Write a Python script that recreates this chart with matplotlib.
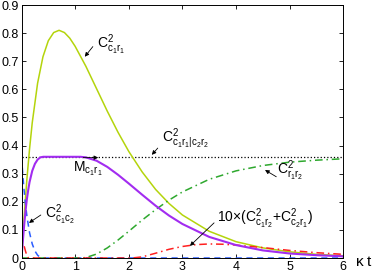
import matplotlib
matplotlib.use("Agg")
import matplotlib.pyplot as plt

plt.rcParams['font.family'] = ['Liberation Sans', 'DejaVu Sans']
plt.rcParams['mathtext.fontset'] = 'custom'
plt.rcParams['mathtext.rm'] = 'Liberation Sans'
plt.rcParams['mathtext.it'] = 'Liberation Sans'
plt.rcParams['mathtext.bf'] = 'Liberation Sans:bold'

# --- data ---
t_c11 = [0, 0.05, 0.1, 0.15, 0.2, 0.3, 0.4, 0.5, 0.6, 0.7, 0.8, 0.9, 1.0, 1.2, 1.4,
         1.6, 1.8, 2.0, 2.25, 2.5, 2.75, 3.0, 3.5, 4.0, 4.5, 5.0, 5.5, 6.0]
C_c1r1 = [0, 0.150, 0.279, 0.388, 0.481, 0.622, 0.716, 0.773, 0.802, 0.810, 0.802,
          0.782, 0.753, 0.682, 0.602, 0.522, 0.447, 0.379, 0.306, 0.244, 0.194,
          0.153, 0.095, 0.058, 0.036, 0.022, 0.013, 0.008]

t_M = [0, 0.02, 0.05, 0.075, 0.1, 0.125, 0.15, 0.2, 0.25, 0.3, 0.35, 0.405, 1.1, 1.2,
       1.4, 1.6, 1.8, 2.0, 2.25, 2.5, 2.75, 3.0, 3.5, 4.0, 4.5, 5.0, 5.5, 6.0]
M_c1r1 = [0, 0.049, 0.118, 0.168, 0.209, 0.242, 0.270, 0.310, 0.335, 0.350, 0.358,
          0.36, 0.36, 0.358, 0.346, 0.324, 0.296, 0.265, 0.225, 0.186, 0.151, 0.121,
          0.075, 0.046, 0.027, 0.016, 0.010, 0.006]

t_cc = [0, 0.025, 0.05, 0.075, 0.1, 0.15, 0.2, 0.25, 0.3, 0.35, 0.405, 6.0]
C_c1c2 = [0.36, 0.294, 0.237, 0.190, 0.150, 0.090, 0.050, 0.025, 0.010, 0.002, 0, 0]

t_cr = [0, 0.01, 0.02, 0.03, 0.05, 0.075, 0.1, 0.125, 0.136, 2.06, 2.25, 2.5, 2.75,
        3.0, 3.25, 3.5, 3.75, 4.0, 4.5, 5.0, 5.5, 6.0]
C_cross10 = [0, 0.035, 0.047, 0.050, 0.042, 0.024, 0.009, 0.001, 0, 0, 0.004, 0.017,
             0.031, 0.041, 0.0475, 0.050, 0.049, 0.046, 0.037, 0.027, 0.019, 0.013]

t_rr = [0, 1.1, 1.2, 1.4, 1.6, 1.8, 2.0, 2.25, 2.5, 2.75, 3.0, 3.5, 4.0, 4.5, 5.0,
        5.5, 6.0]
C_r1r2 = [0, 0, 0.0016, 0.014, 0.036, 0.064, 0.095, 0.135, 0.172, 0.206, 0.235,
          0.280, 0.310, 0.329, 0.341, 0.348, 0.353]

t_tot = [0, 6]
C_total = [0.36, 0.36]

x_ticks = [0, 1, 2, 3, 4, 5, 6]
y_ticks = [0, 0.1, 0.2, 0.3, 0.4, 0.5, 0.6, 0.7, 0.8, 0.9]
y_ticklabels = ['0', '0.1', '0.2', '0.3', '0.4', '0.5', '0.6', '0.7', '0.8', '0.9']

fig = plt.figure(figsize=(3.74, 2.75), dpi=100)
ax = fig.add_axes([0.0575, 0.0618, 0.8605, 0.92])

ax.plot(t_tot, C_total, ':', color='black', lw=0.9)
ax.plot(t_c11, C_c1r1, '-', color='#b4d40c', lw=1.1)
ax.plot(t_cc, C_c1c2, '--', color='#2a5cff', lw=1.1, dashes=(4, 3))
ax.plot(t_rr, C_r1r2, '-.', color='#2ea82e', lw=1.1, dashes=(5, 2.5, 1, 2.5))
ax.plot(t_cr, C_cross10, '-.', color='#ff2020', lw=1.1, dashes=(5, 2.5, 1, 2.5))
ax.plot(t_M, M_c1r1, '-', color='#a22cf0', lw=1.5)

ax.set_xlim(0, 6)
ax.set_ylim(0, 0.9)
ax.set_xticks(x_ticks)
ax.set_yticks(y_ticks)
ax.set_yticklabels(y_ticklabels)
ax.tick_params(direction='in', length=3, width=0.6, top=True, right=True,
               labelsize=9, pad=2)
for s in ax.spines.values():
    s.set_linewidth(0.7)

akw = dict(arrowstyle='-|>', color='black', lw=0.6, mutation_scale=6,
           shrinkA=0, shrinkB=0)
fs = 10

def label(txt, pos, tail, head, size=fs):
    ax.text(pos[0], pos[1], txt, fontsize=size, ha='left', va='baseline')
    ax.annotate('', xy=head, xytext=tail, arrowprops=akw)

label(r'$\mathrm{C^2_{c_1r_1}}$', (1.41, 0.747), (1.33, 0.752), (1.18, 0.716))
label(r'$\mathrm{C^2_{c_1r_1|c_2r_2}}$', (2.62, 0.413), (2.54, 0.391), (2.43, 0.367))
label(r'$\mathrm{M_{c_1r_1}}$', (0.96, 0.306), (1.15, 0.357), (1.43, 0.357))
label(r'$\mathrm{C^2_{c_1c_2}}$', (0.44, 0.142), (0.36, 0.153), (0.14, 0.125))
label(r'$\mathrm{C^2_{r_1r_2}}$', (4.77, 0.298), (4.75, 0.289), (4.54, 0.313))
label(r'$\mathrm{10{\times}(C^2_{c_1r_2}{+}C^2_{c_2r_1})}$', (3.64, 0.128),
      (3.59, 0.125), (3.14, 0.043))

fig.text(364 / 374, 1 - 262 / 275, r'$\mathrm{\kappa}$ t', fontsize=11,
         ha='center', va='center')

fig.savefig('out.png', dpi=100)
